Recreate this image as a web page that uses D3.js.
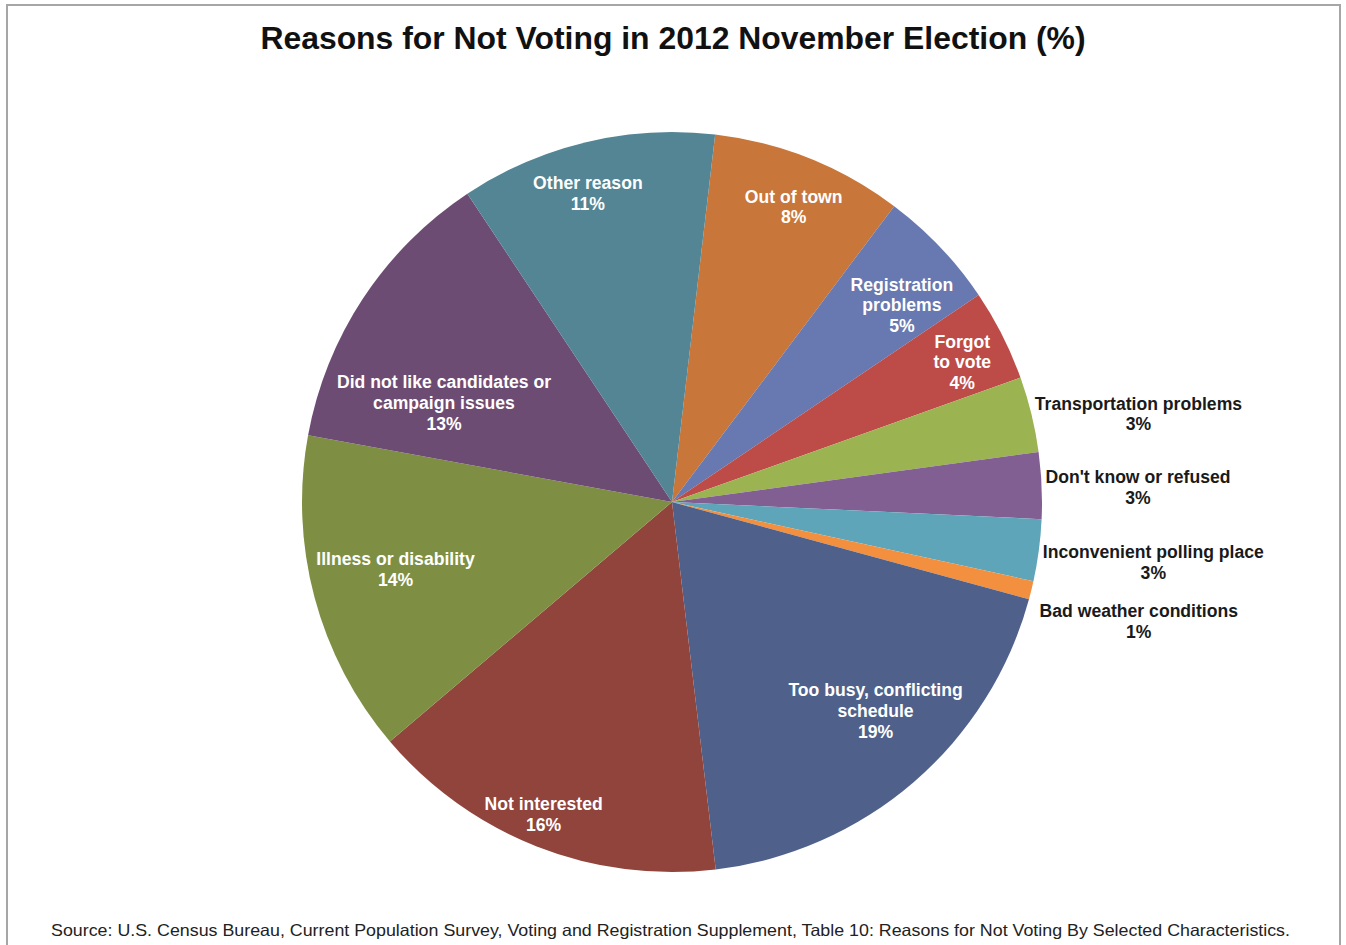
<!DOCTYPE html>
<html lang="en">
<head>
    <meta charset="UTF-8">
    <script src="https://cdn.jsdelivr.net/npm/d3@7"></script>
    <title>Reasons for Not Voting in 2012 November Election (%)</title>
    <style>
        body { margin: 0; background: #fff; }
        svg text { font-family: "Liberation Sans", Arial, sans-serif; }
    </style>
</head>
<body>
<svg id="chart" width="1346" height="945"></svg>
<script>
    // slices, clockwise from the top
    var reasons = [
        ["Out of town"],
        ["Registration", "problems"],
        ["Forgot", "to vote"],
        ["Transportation problems"],
        ["Don't know or refused"],
        ["Inconvenient polling place"],
        ["Bad weather conditions"],
        ["Too busy, conflicting", "schedule"],
        ["Not interested"],
        ["Illness or disability"],
        ["Did not like candidates or", "campaign issues"],
        ["Other reason"]
    ];
    var shares = [8.4, 5.3, 4.0, 3.3, 2.9, 2.7, 0.8, 18.9, 15.7, 14.1, 12.8, 11.2];
    var pctLabels = ["8%", "5%", "4%", "3%", "3%", "3%", "1%", "19%", "16%", "14%", "13%", "11%"];
    var sliceColors = ["#c8763a", "#6878b0", "#bd4b47", "#9bb350", "#825f93", "#5fa5b9",
                       "#f2903f", "#4f618b", "#90443c", "#7e8f43", "#6d4c73", "#538594"];

    var titleText = "Reasons for Not Voting in 2012 November Election (%)";
    var sourceText = "Source:  U.S. Census Bureau, Current Population Survey, Voting and Registration Supplement, Table 10: Reasons for Not Voting By Selected Characteristics.";

    // layout
    var cx = 672, cy = 502, radius = 370;
    var startDeg = 6.7;
    // label placement tweaks: [angle offset from slice middle (deg), radius factor]
    var labelPlace = [[0.6, 0.863], [3.0, 0.818], [1.1, 0.871], [3.0, 1.283], [0.8, 1.26], [-0.4, 1.311],
                      [0.5, 1.302], [-3.5, 0.788], [0.9, 0.913], [1.3, 0.769], [-9.9, 0.672], [-1.8, 0.865]];
    var outside = [3, 4, 5, 6];

    var svg = d3.select("#chart");

    // chart frame
    svg.append("rect")
        .attr("x", 7).attr("y", 5)
        .attr("width", 1333).attr("height", 960)
        .attr("fill", "#fff")
        .attr("stroke", "#a6a6a6")
        .attr("stroke-width", 2);

    svg.append("text")
        .attr("x", 673).attr("y", 49)
        .attr("text-anchor", "middle")
        .attr("font-size", 31.9)
        .attr("font-weight", "bold")
        .attr("fill", "#111")
        .text(titleText);

    var pieData = d3.pie()
        .sort(null)
        .startAngle(startDeg * Math.PI / 180)
        .endAngle((startDeg + 360) * Math.PI / 180)
        .value(function(d) { return d; })(shares);

    var arc = d3.arc().innerRadius(0).outerRadius(radius);

    var g = svg.append("g").attr("transform", "translate(" + cx + "," + cy + ")");

    g.selectAll("path")
        .data(pieData)
        .enter()
        .append("path")
        .attr("d", arc)
        .attr("fill", function(d, i) { return sliceColors[i]; });

    // labels: name lines then percent
    var lineH = 20.7;
    var labels = g.selectAll("text.lbl")
        .data(pieData)
        .enter()
        .append("text")
        .attr("class", "lbl")
        .attr("text-anchor", "middle")
        .attr("font-size", 17.6)
        .attr("font-weight", "bold")
        .attr("fill", function(d, i) { return outside.indexOf(i) >= 0 ? "#1a1a1a" : "#fff"; })
        .attr("transform", function(d, i) {
            var a = (d.startAngle + d.endAngle) / 2 + labelPlace[i][0] * Math.PI / 180;
            var r = radius * labelPlace[i][1];
            return "translate(" + (r * Math.sin(a)) + "," + (-r * Math.cos(a)) + ")";
        });

    labels.each(function(d, i) {
        var lines = reasons[i].concat([pctLabels[i]]);
        var top = -(lines.length - 1) * lineH / 2;
        var t = d3.select(this);
        lines.forEach(function(s, k) {
            t.append("tspan")
                .attr("x", 0)
                .attr("y", top + k * lineH)
                .attr("dy", "0.35em")
                .text(s);
        });
    });

    svg.append("text")
        .attr("x", 51).attr("y", 936)
        .attr("font-size", 16.5)
        .attr("fill", "#222")
        .attr("textLength", 1239)
        .attr("lengthAdjust", "spacingAndGlyphs")
        .text(sourceText);
</script>
</body>
</html>
